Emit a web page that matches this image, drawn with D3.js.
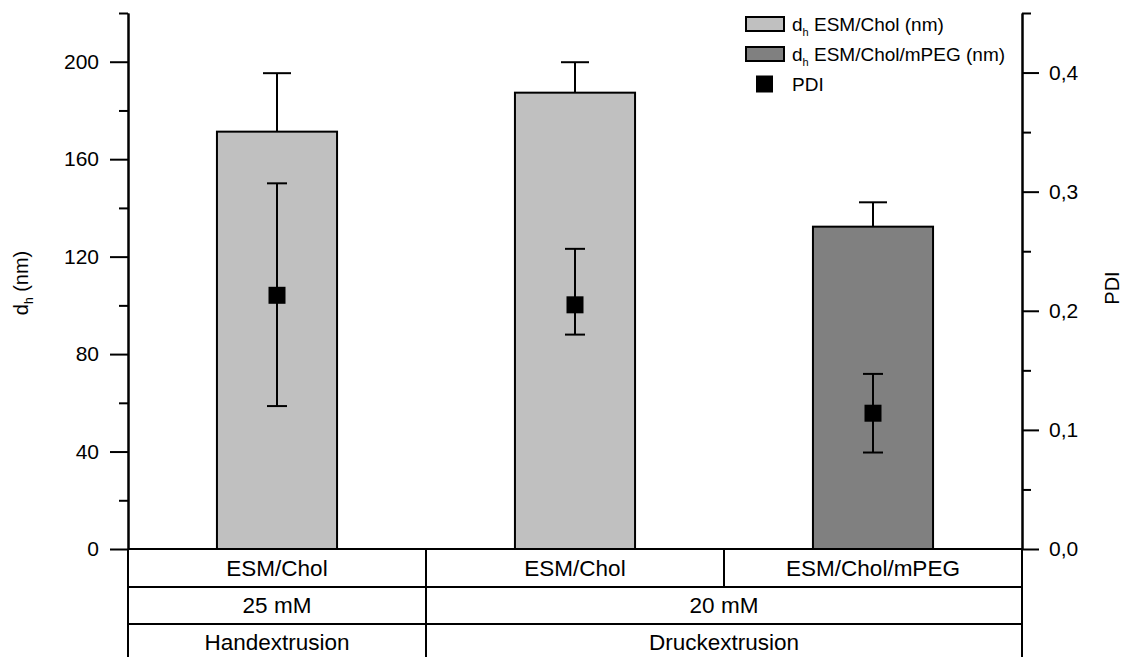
<!DOCTYPE html>
<html>
<head>
<meta charset="utf-8">
<script src="https://cdn.jsdelivr.net/npm/d3@7"></script>
<style>
  body { margin: 0; background: #fff; }
  svg { display: block; font-family: "Liberation Sans", Arial, sans-serif; }
  .axis text { font-size: 21px; fill: #000; }
  .axis line, .axis path { stroke: #000; stroke-width: 2px; }
</style>
</head>
<body>
<svg id="chart" width="1130" height="657"></svg>
<script>
// categories and values
const groups = ["g1", "g2", "g3"];
const dhValues = [171.3, 187.3, 132.3];
const dhErrors = [24, 12.5, 10];
const dhSeries = [0, 0, 1]; // 0 = ESM/Chol, 1 = ESM/Chol/mPEG
const pdiValues = [0.213, 0.205, 0.114];
const pdiUpper = [0.307, 0.252, 0.147];
const pdiLower = [0.120, 0.180, 0.081];

const leftTicks = [0, 40, 80, 120, 160, 200];
const leftMinor = [20, 60, 100, 140, 180, 220];
const rightTicks = [0, 0.1, 0.2, 0.3, 0.4];
const rightMinor = [0.05, 0.15, 0.25, 0.35, 0.45];

const tableRow1 = ["ESM/Chol", "ESM/Chol", "ESM/Chol/mPEG"];
const tableRow1Span = [1, 1, 1];
const tableRow2 = ["25 mM", "20 mM"];
const tableRow2Span = [1, 2];
const tableRow3 = ["Handextrusion", "Druckextrusion"];
const tableRow3Span = [1, 2];

const legendLabels = ["ESM/Chol (nm)", "ESM/Chol/mPEG (nm)", "PDI"];
const seriesFill = ["#c0c0c0", "#808080"];

const svg = d3.select("#chart");
const plotLeft = 128, plotRight = 1022, plotTop = 13, plotBottom = 549;

const x = d3.scaleBand().domain(groups).range([plotLeft, plotRight]).padding(0);
const y = d3.scaleLinear().domain([0, 220]).range([plotBottom, plotTop]);
const yP = d3.scaleLinear().domain([0, 0.45]).range([plotBottom, plotTop]);
const barW = x.bandwidth() * 0.403;

// bars
const gBars = svg.append("g");
groups.forEach(function(g, i) {
  const cx = x(g) + x.bandwidth() / 2;
  // error (plus only)
  gBars.append("line")
    .attr("x1", cx).attr("x2", cx)
    .attr("y1", y(dhValues[i])).attr("y2", y(dhValues[i] + dhErrors[i]))
    .attr("stroke", "#000").attr("stroke-width", 2);
  gBars.append("line")
    .attr("x1", cx - 14).attr("x2", cx + 14)
    .attr("y1", y(dhValues[i] + dhErrors[i])).attr("y2", y(dhValues[i] + dhErrors[i]))
    .attr("stroke", "#000").attr("stroke-width", 2);
  gBars.append("rect")
    .attr("x", cx - barW / 2)
    .attr("y", y(dhValues[i]))
    .attr("width", barW)
    .attr("height", y(0) - y(dhValues[i]))
    .attr("fill", seriesFill[dhSeries[i]])
    .attr("stroke", "#000").attr("stroke-width", 2);
});

// PDI points
const gPdi = svg.append("g");
groups.forEach(function(g, i) {
  const cx = x(g) + x.bandwidth() / 2;
  gPdi.append("line")
    .attr("x1", cx).attr("x2", cx)
    .attr("y1", yP(pdiLower[i])).attr("y2", yP(pdiUpper[i]))
    .attr("stroke", "#000").attr("stroke-width", 2);
  [pdiLower[i], pdiUpper[i]].forEach(function(v) {
    gPdi.append("line")
      .attr("x1", cx - 10).attr("x2", cx + 10)
      .attr("y1", yP(v)).attr("y2", yP(v))
      .attr("stroke", "#000").attr("stroke-width", 2);
  });
  gPdi.append("rect")
    .attr("x", cx - 8.5).attr("y", yP(pdiValues[i]) - 8.5)
    .attr("width", 17).attr("height", 17)
    .attr("fill", "#000");
});

// left axis
svg.append("g").attr("class", "axis")
  .attr("transform", "translate(" + plotLeft + ",0)")
  .call(d3.axisLeft(y).tickValues(leftTicks).tickSize(18).tickPadding(11).tickSizeOuter(0));
svg.append("g").attr("class", "axis")
  .attr("transform", "translate(" + plotLeft + ",0)")
  .call(d3.axisLeft(y).tickValues(leftMinor).tickSize(9).tickFormat("").tickSizeOuter(0));

// right axis
const fmt = d => d.toFixed(1).replace(".", ",");
svg.append("g").attr("class", "axis")
  .attr("transform", "translate(" + plotRight + ",0)")
  .call(d3.axisRight(yP).tickValues(rightTicks).tickSize(17).tickPadding(10).tickFormat(fmt).tickSizeOuter(0));
svg.append("g").attr("class", "axis")
  .attr("transform", "translate(" + plotRight + ",0)")
  .call(d3.axisRight(yP).tickValues(rightMinor).tickSize(9).tickFormat("").tickSizeOuter(0));

// axis titles
const lt = svg.append("text")
  .attr("transform", "translate(28,283) rotate(-90)")
  .attr("text-anchor", "middle")
  .style("font-size", "20px");
lt.append("tspan").text("d");
lt.append("tspan").attr("dy", 5).style("font-size", "12px").text("h");
lt.append("tspan").attr("dy", -5).text(" (nm)");

svg.append("text")
  .attr("transform", "translate(1119,288) rotate(-90)")
  .attr("text-anchor", "middle")
  .style("font-size", "20px")
  .text("PDI");

// table under the x axis
const rowY = [549, 587, 624, 661];
const step = x.step();
svg.append("line").attr("x1", plotLeft).attr("x2", plotRight).attr("y1", plotBottom).attr("y2", plotBottom)
  .attr("stroke", "#000").attr("stroke-width", 2);

[[tableRow1, tableRow1Span], [tableRow2, tableRow2Span], [tableRow3, tableRow3Span]].forEach(function(row, r) {
  const labels = row[0], spans = row[1];
  let col = 0;
  labels.forEach(function(lab, k) {
    const x0 = plotLeft + col * step;
    const x1 = x0 + spans[k] * step;
    svg.append("line").attr("x1", x0).attr("x2", x0).attr("y1", rowY[r]).attr("y2", rowY[r + 1])
      .attr("stroke", "#000").attr("stroke-width", 2);
    svg.append("text")
      .attr("x", (x0 + x1) / 2).attr("y", (rowY[r] + rowY[r + 1]) / 2)
      .attr("text-anchor", "middle").attr("dominant-baseline", "central")
      .style("font-size", "22.5px")
      .text(lab);
    col += spans[k];
  });
  svg.append("line").attr("x1", plotRight).attr("x2", plotRight).attr("y1", rowY[r]).attr("y2", rowY[r + 1])
    .attr("stroke", "#000").attr("stroke-width", 2);
  svg.append("line").attr("x1", plotLeft).attr("x2", plotRight).attr("y1", rowY[r + 1]).attr("y2", rowY[r + 1])
    .attr("stroke", "#000").attr("stroke-width", 2);
});

// legend
const leg = svg.append("g");
const legY = [24, 54, 84];
[0, 1].forEach(function(i) {
  leg.append("rect")
    .attr("x", 746).attr("y", legY[i] - 7).attr("width", 38).attr("height", 14)
    .attr("fill", seriesFill[i]).attr("stroke", "#000").attr("stroke-width", 2);
  const t = leg.append("text").attr("x", 792).attr("y", legY[i] + 7).style("font-size", "19px");
  t.append("tspan").text("d");
  t.append("tspan").attr("dy", 5).style("font-size", "11px").text("h");
  t.append("tspan").attr("dy", -5).text(" " + legendLabels[i]);
});
leg.append("rect").attr("x", 756).attr("y", legY[2] - 8.5).attr("width", 17).attr("height", 17).attr("fill", "#000");
leg.append("text").attr("x", 792).attr("y", legY[2] + 7).style("font-size", "19px").text(legendLabels[2]);
</script>
</body>
</html>
